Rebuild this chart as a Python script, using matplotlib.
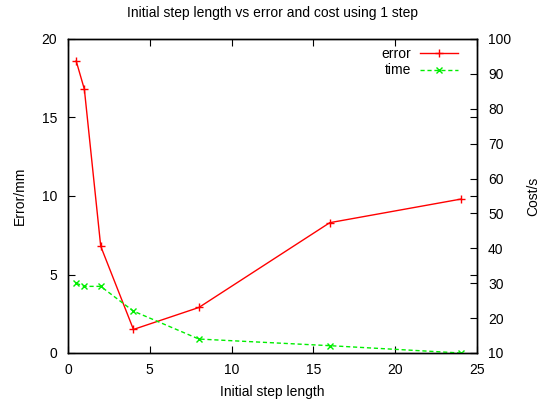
import matplotlib
matplotlib.use("Agg")
import matplotlib.pyplot as plt

plt.rcParams['font.family'] = ['Liberation Sans', 'DejaVu Sans']

step_length = [0.5, 1, 2, 4, 8, 16, 24]
error_mm = [18.6, 16.8, 6.8, 1.5, 2.9, 8.3, 9.8]
time_s = [30.0, 29.1, 29.1, 22.0, 14.0, 12.1, 10.0]

x_ticks = [0, 5, 10, 15, 20, 25]
y1_ticks = [0, 5, 10, 15, 20]
y2_ticks = [10, 20, 30, 40, 50, 60, 70, 80, 90, 100]

fig = plt.figure(figsize=(5.42, 4.03), dpi=100)
ax = fig.add_axes([68/542, 50/403, (477-68)/542, (353-39)/403])
ax2 = ax.twinx()

l1, = ax.plot(step_length, error_mm, color='#ff0000', lw=1.0, marker='+',
              markersize=5.5, markeredgewidth=1.0, label='error')
l2, = ax2.plot(step_length, time_s, color='#00ee00', lw=1.0, ls=(0, (3, 2)),
               marker='x', markersize=4.5, markeredgewidth=1.0, label='time')

ax.set_xlim(0, 25)
ax.set_ylim(0, 20)
ax2.set_ylim(10, 100)
ax.set_xticks(x_ticks)
ax.set_yticks(y1_ticks)
ax2.set_yticks(y2_ticks)

fs = 10
ax.tick_params(axis='both', direction='in', length=5, width=0.8, labelsize=fs,
               top=True, right=True, labelright=False)
ax.tick_params(axis='y', pad=8)
ax.tick_params(axis='x', pad=7)
ax2.tick_params(axis='y', direction='in', length=5, width=0.8, labelsize=fs, pad=8)

for a in (ax, ax2):
    for s in a.spines.values():
        s.set_linewidth(1.0)

ax.set_title('Initial step length vs error and cost using 1 step', fontsize=fs, pad=16)
ax.set_xlabel('Initial step length', fontsize=fs, labelpad=6)
ax.set_ylabel('Error/mm', fontsize=fs, labelpad=10)
ax2.set_ylabel('Cost/s', fontsize=fs, labelpad=11)

leg = ax2.legend(handles=[l1, l2], loc='upper right', frameon=False, markerfirst=False,
                 fontsize=fs, handlelength=2.8, handletextpad=0.6, labelspacing=0.15,
                 bbox_to_anchor=(0.975, 1.0), borderaxespad=0.2)

fig.savefig('out.png', dpi=100)
